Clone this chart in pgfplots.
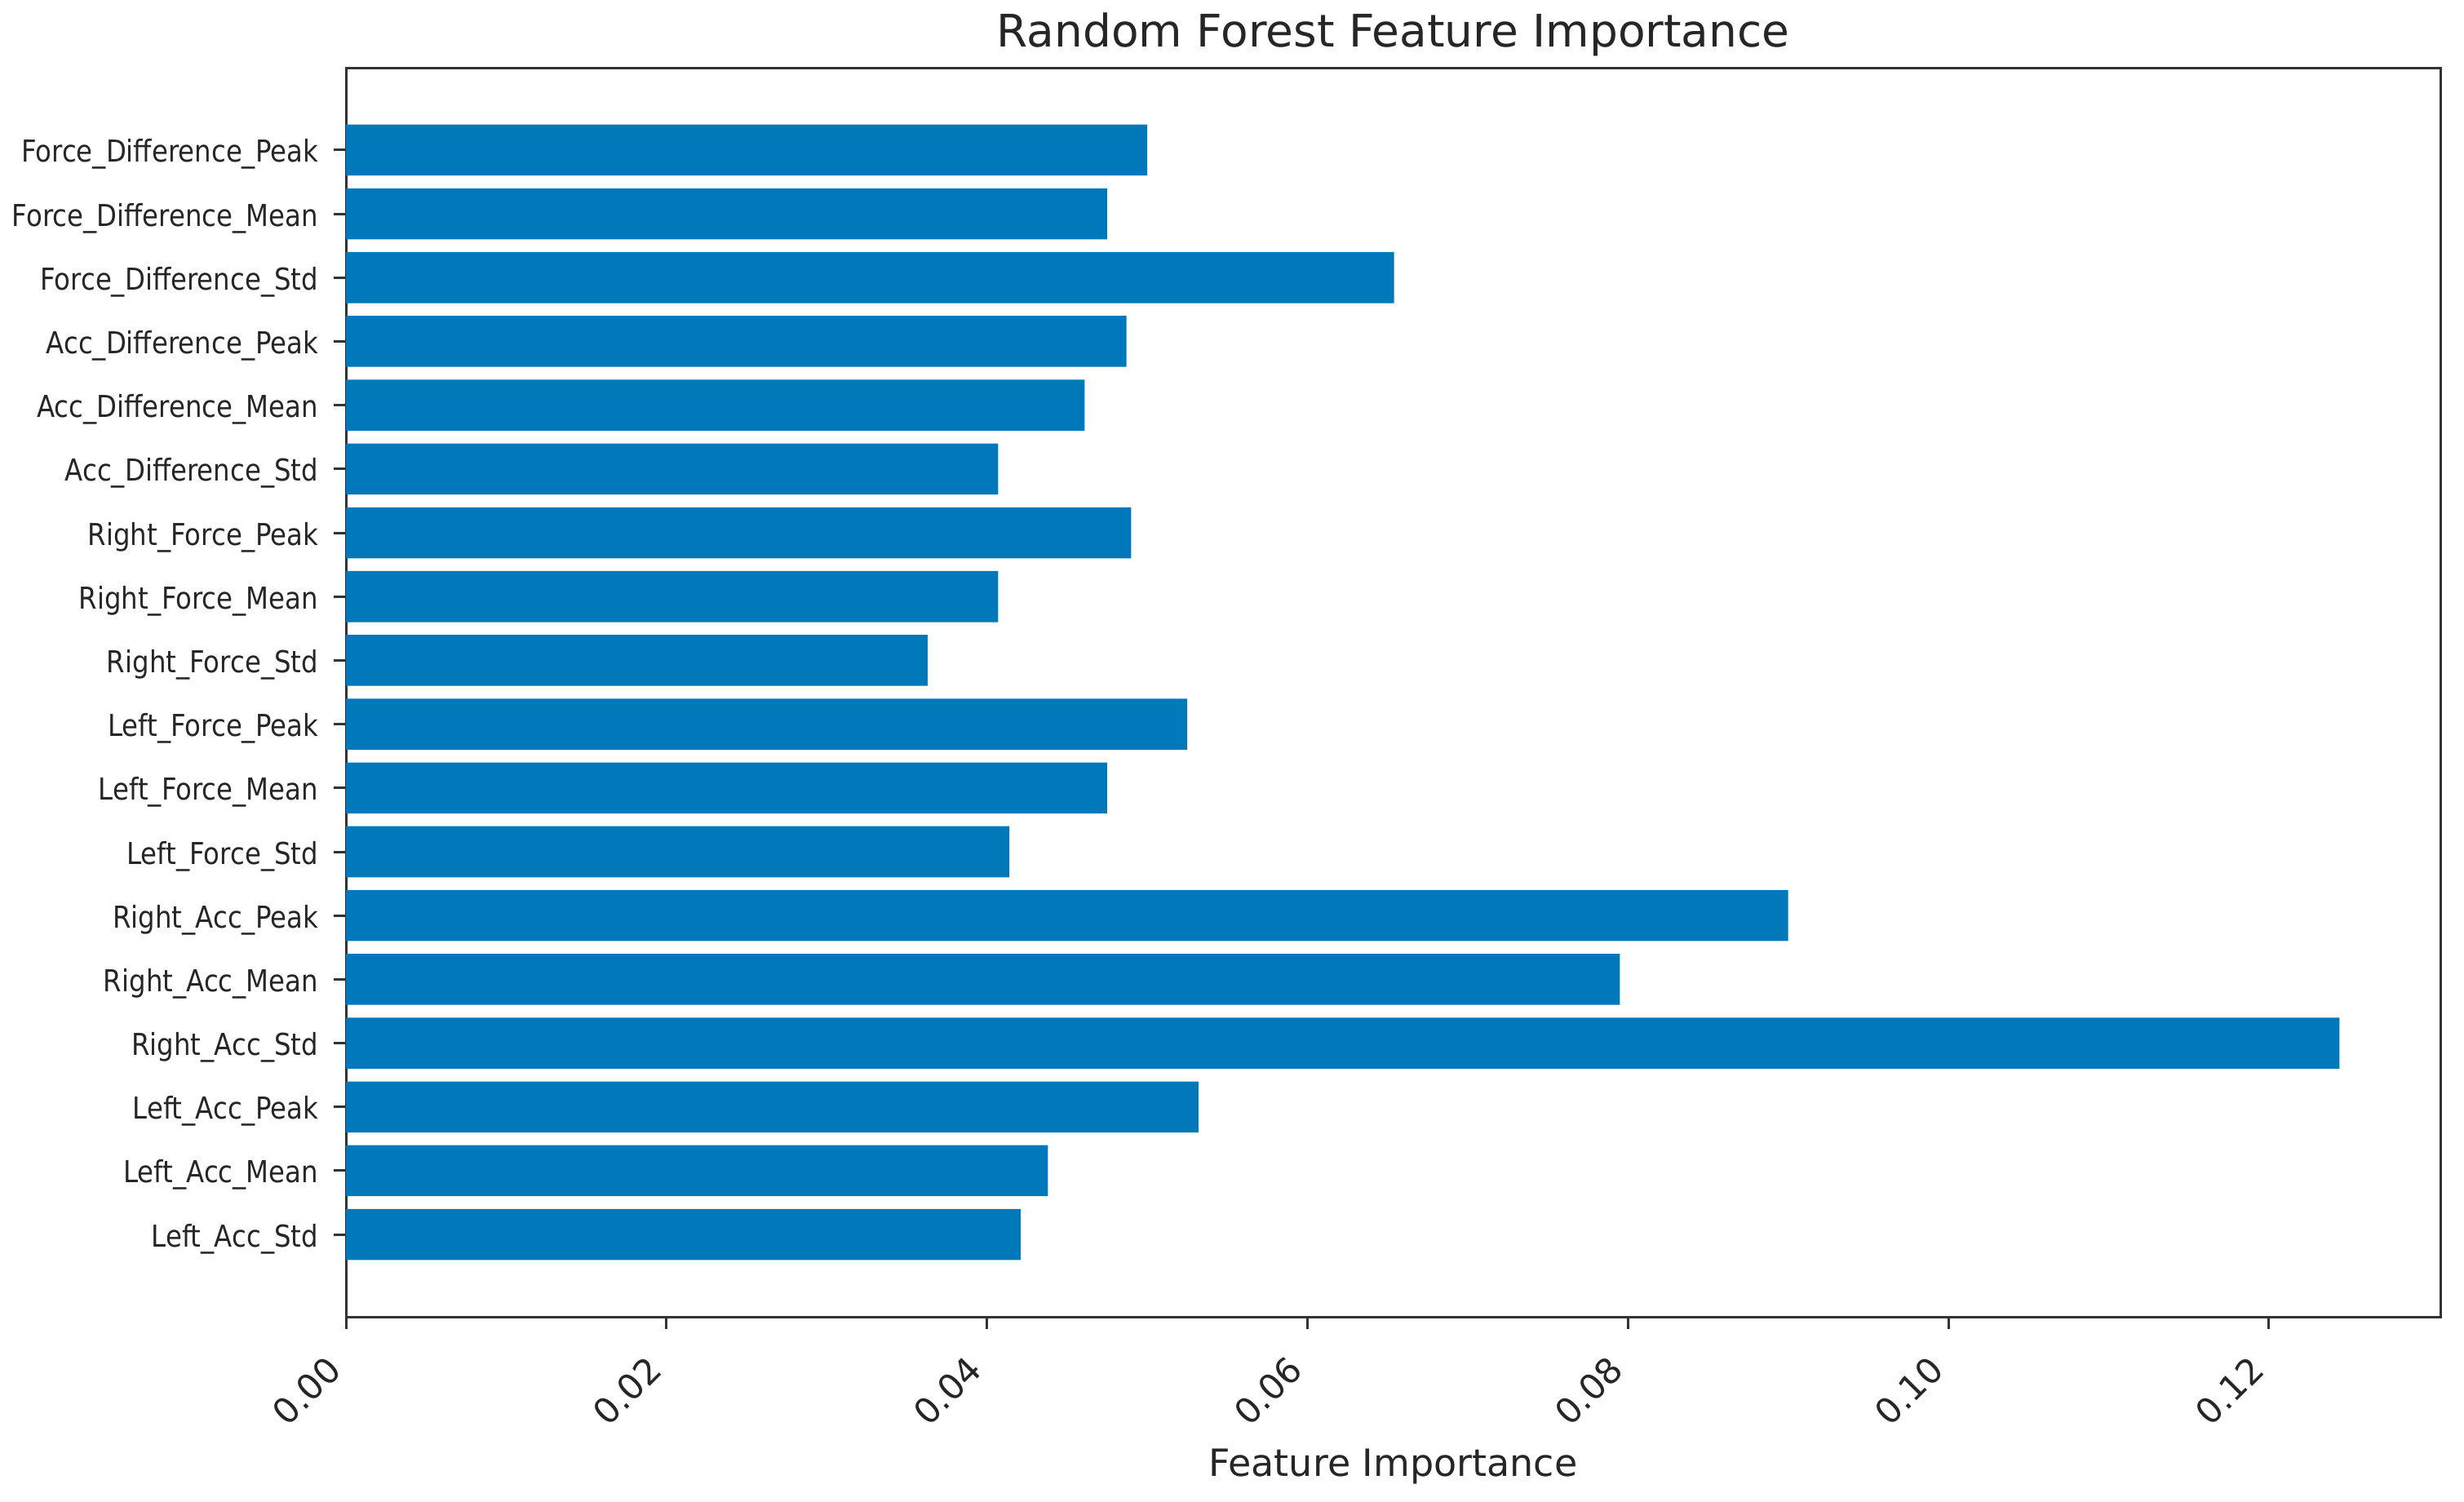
\documentclass[border=0pt]{standalone}
\usepackage{fontspec}
\setmainfont{DejaVu Sans}
\newfontfamily\condfont[FakeStretch=0.875]{DejaVu Sans}
\usepackage{pgfplots}
\pgfplotsset{compat=1.18}
\definecolor{barblue}{RGB}{0,120,185}
\begin{document}
\begin{tikzpicture}[x=1pt,y=1pt]
\begin{axis}[
  at={(84.8pt,45.2pt)}, anchor=south west,
  scale only axis, width=513.4pt, height=306.2pt,
  xmin=0, xmax=0.1307, ymin=-1.29, ymax=18.29,
  xbar, bar width=0.8,
  axis line style={line width=0.6pt, black!80},
  tick style={line width=0.6pt, black!80},
  tick align=outside, major tick length=3pt,
  xtick pos=bottom, ytick pos=left,
  xtick={0,0.02,0.04,0.06,0.08,0.1,0.12},
  xticklabel style={xshift=-5.2pt, yshift=-5.8pt, rotate=45, anchor=north east, font=\fontsize{8.6}{10}\selectfont, text=black!85, inner sep=0pt},
  /pgf/number format/assume math mode=true,
  /pgf/number format/.cd, fixed, fixed zerofill, precision=2, /pgfplots/.cd,
  scaled x ticks=false,
  ytick={0,...,17},
  yticklabels={Left\_Acc\_Std,Left\_Acc\_Mean,Left\_Acc\_Peak,Right\_Acc\_Std,Right\_Acc\_Mean,Right\_Acc\_Peak,Left\_Force\_Std,Left\_Force\_Mean,Left\_Force\_Peak,Right\_Force\_Std,Right\_Force\_Mean,Right\_Force\_Peak,Acc\_Difference\_Std,Acc\_Difference\_Mean,Acc\_Difference\_Peak,Force\_Difference\_Std,Force\_Difference\_Mean,Force\_Difference\_Peak},
  yticklabel style={font=\fontsize{7.4}{8}\selectfont\condfont, text=black!85, anchor=base east, inner sep=0pt, xshift=-3.6pt, yshift=-3.0pt},
  xlabel={Feature Importance},
  xlabel style={font=\fontsize{9.2}{11}\selectfont, text=black!85, at={(0.5,0)}, anchor=base, yshift=-39pt},
  title={Random Forest Feature Importance},
  every axis title/.style={font=\fontsize{11}{12}\selectfont, text=black!85, at={(0.5,1)}, anchor=base, yshift=5.2pt},
]
\addplot[fill=barblue, draw=none] coordinates {
(0.0421,0) (0.0438,1) (0.0532,2) (0.1244,3) (0.0795,4) (0.0900,5)
(0.0414,6) (0.0475,7) (0.0525,8) (0.0363,9) (0.0407,10) (0.0490,11)
(0.0407,12) (0.0461,13) (0.0487,14) (0.0654,15) (0.0475,16) (0.0500,17)
};
\end{axis}
\pgfresetboundingbox
\path (0,0) rectangle (604pt,368pt);
\end{tikzpicture}
\end{document}
